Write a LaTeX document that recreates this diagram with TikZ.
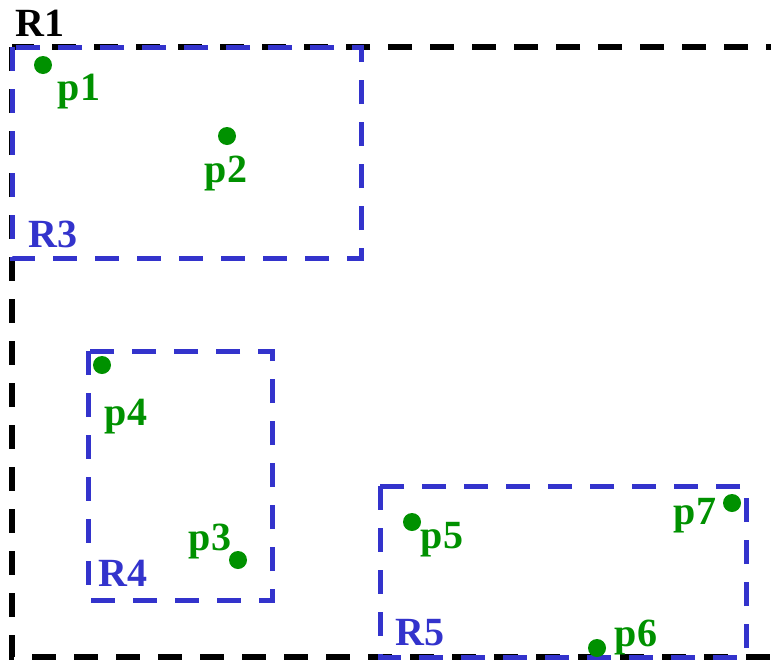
\documentclass[tikz,border=0pt]{standalone}
\usepackage{fontspec}
\setmainfont{Liberation Serif}
\definecolor{regblue}{RGB}{51,51,204}
\definecolor{ptgreen}{RGB}{0,145,0}
\begin{document}
\begin{tikzpicture}[x=1pt,y=-1pt,
  region/.style={line width=5pt, dash pattern=on 24pt off 18pt},
  outer/.style={region, draw=black, line width=5.5pt},
  inner/.style={region, draw=regblue},
  pt/.style={circle, fill=ptgreen, inner sep=0pt, minimum size=18pt},
  plab/.style={inner sep=0pt, text=ptgreen, font=\fontsize{40}{44}\selectfont\bfseries},
  rlab/.style={inner sep=0pt, font=\fontsize{40}{44}\selectfont\bfseries}]
\useasboundingbox (0,0) rectangle (771,662);
\clip (0,0) rectangle (771,662);
% R1
\draw[outer] (12,47) rectangle (820,657);
\node[rlab] (R1) at (40,23) {R1};
% R3, R4, R5
\draw[inner] (12,47) rectangle (361,258);
\node[rlab, text=regblue] (R3) at (53,234) {R3};
\draw[inner] (88,351) rectangle (272,600);
\node[rlab, text=regblue] (R4) at (123,573) {R4};
\draw[inner] (380,486) rectangle (746,657);
\node[rlab, text=regblue] (R5) at (420,633) {R5};
% points
\node[pt] (p1) at (43,65) {};
\node[plab] (p1l) at (79,92) {p1};
\node[pt] (p2) at (227,136) {};
\node[plab] (p2l) at (226,174) {p2};
\node[pt] (p4) at (102,365) {};
\node[plab] (p4l) at (126,417) {p4};
\node[pt] (p3) at (238,560) {};
\node[plab] (p3l) at (210,542) {p3};
\node[pt] (p5) at (412,522) {};
\node[plab] (p5l) at (442,540) {p5};
\node[pt] (p7) at (732,503) {};
\node[plab] (p7l) at (695,516) {p7};
\node[pt] (p6) at (597,648) {};
\node[plab] (p6l) at (636,638) {p6};
\end{tikzpicture}
\end{document}
